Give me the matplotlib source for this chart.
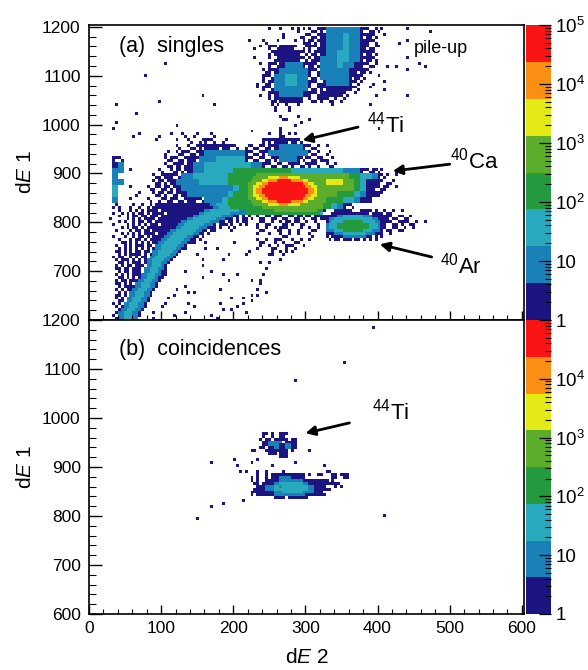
import matplotlib
matplotlib.use("Agg")
import matplotlib.pyplot as plt
import numpy as np
from matplotlib.colors import ListedColormap
from matplotlib.ticker import FixedLocator, NullFormatter

plt.rcParams['font.family'] = ['Liberation Sans', 'DejaVu Sans']
plt.rcParams['mathtext.fontset'] = 'custom'
plt.rcParams['mathtext.rm'] = 'Liberation Sans'
plt.rcParams['mathtext.it'] = 'Liberation Sans:italic'
plt.rcParams['mathtext.default'] = 'regular'

# counts band per cell, one string per row from y=1200 down, cells 8 x 12 wide
# . empty, 1 navy ... 8 red, letters = navy in only part of the cell
singles_rows = [
    ".......... .......... .......... ......e.ab c222222cab b",
    ".......... .......... .......... .......bab 1222322c1a .e",
    ".......... .......... .......... a......acb 12223221ca",
    ".......... .......... .......... .ca11c.bca 12223221ab e",
    ".......... .......... .......... .b1111caac 1223322c1a",
    ".......... .......... .......... ..d111caa1 2223322c1a",
    ".......... .......... .......... .ca1222c1a 2223221cab",
    ".......... .......... .......... ac122222ca 222221c1a.",
    ".......... .......... .......... ca223322ab 22222c1a..",
    ".......... .......... .......... ac223322ca d2222cae..",
    ".......... .......... .......... ca222222ab c1111ca...",
    ".......... .......... .......... .c122221ca 1111a.e...",
    ".......... .......... .......... .ac1111.ab cab.e.....",
    ".......... .......... .......... ..b.a.e...",
    "",
    "",
    "",
    "",
    ".......... ....e.a.b. .a........ .e.a......",
    ".......... .....e.a.b ca.b...... cc11c1a...",
    ".......... .....a.abc 11c1ca.bab ac12222cab .e.",
    ".......... ...b.acab1 2222222cab c2222222ab .b",
    "....ca.... ...acab1c2 2233333cab abc222cbab a.e",
    "....12.... ...ab1a122 3333333322 cababcabca .ab",
    "....22.e.. ..a.acb122 3333344444 4444433333 3333222cac b",
    "....2..... .ab1ca2233 3333444445 5566666555 5555544332 cb",
    "....22.... .acb122223 3333444456 7888888765 5666554311 c.b",
    "....3..e.. abacb12222 2222234567 8888888876 555555431c ab.e",
    "....3...b. .acbac1222 2222344567 8888888876 5554443211 c",
    "....2..e.. a.bacab1ca 2223444556 7888888776 544433211.",
    ".......... .......... .......... 6666666655 4432ca....",
    ".......... .......... .......... 4444444432 c......... cab.e",
    ".......... .......... .........a bacabacbac 1......... c1abab",
    ".......... .......... .........b ab.acbab.a .......... acabcab.e",
    ".......... .......... .........a b.aca.b.ab .......... cabab.e.",
    ".......... .......... .........e .e.ab.e.a. .......... a.e.",
    ".......... .......... .........a b.ca.ab.e.",
    ".......... .......... .........b .ab.ca.e..",
    ".......... .......... .......... .b.ae.....",
]

# finer cells, 4 x 6 wide: hot core from x=216 y=900, argon spot from x=328 y=828,
# lower left banana from x=28 y=840
core_rows = [
    "444455555555555555555555555",
    "444555556666777666655555555",
    "445555667778888877776655555",
    "455566778888888888887766555",
    "455667788888888888888776655",
    "455677888888888888888877655",
    "455677888888888888888877655",
    "455667788888888888888776655",
    "455566778888888888887766555",
    "445555667778888877776655555",
    "444555556666777666655555555",
    "444444555555555555555555555",
    "444444444455555555555555544",
    "444444444444444444444444443",
]
argon_rows = [
    "...111111...1111.1..",
    "..1111111111111.1111",
    "11112233333332221111",
    "12233333333333332211",
    "12333344444443333221",
    "23334444444444433321",
    "23334444444444433321",
    "22233344444443332221",
    "11122233333333222111",
    "1.1111222222221 1.1.1".replace(" ", ""),
    ".1.11.111.11.1.1.1..",
]
banana_rows = [
    "..1.....1. .1..1.1111 1111111111 1111122333 3444444445",
    ".1.1...1.. 1..1.11111 1111111111 1111112233 3344444444",
    "...1...1.1 .1.1111.11 1111111111 1112233333 3333322222",
    ".1..1.1.1. 11.1.1111. 1111111111 1223333333 3322222111",
    "...1..1.11 .11.111.11 1111111112 2333333332 22211.1.1.",
    "1.....1.1. 1.1111.111 1111111223 3333333222 111.1.11.1",
    "...1.1..1. 11.11.1111 1111122333 3333322211 .11.1.11..",
    ".1....1.1. 1.1.111.11 1111223333 3332221.11 1.1..1.1..",
    "....1.1.11 .1.1111111 1112233333 3222111.1. .1.1......",
    "..1....1.1 1.11.11111 1223333333 2211.11... ..1.......",
    "....1.1.1. 1.1111.111 2233333332 211.1.....",
    ".1...1..1. 11.1.11112 2333333221 1.1.......",
    "...1...1.1 1.1.111122 3333332211 .1........",
    "....11.1.1 .1.1.11223 3333322111 ...1......",
    "..1..1.1.1 11.11.2233 3333221...",
    "...1.1.1.1 .1.1.12233 3332211... ...1......",
    "..11.1.1.1 1.11.22333 33221.....",
    "...1.1.111 1.1.122333 3221......",
    ".1.11..1.1 .11.223333 221.......",
    "..1.111.1. 1.12233332 21........",
    "...11.1.11 1.12233322 1.........",
    "..1.1.11.1 11.2233321",
    "..11.11.11 1.22333221",
    "...1.11.11 1.22333211",
    "..1.1.1.11 1223332211",
    "...11.1.1. 122333211.",
    "..1.11.111 22333221..",
    "..11.1.1.2 2333221...",
    "...1.11112 2333221...",
    "..1.1.1122 333221....",
    "...1.1.223 33221.....",
    "..11.1.223 33221.....",
    "..1.1.2233 3221......",
    "...11.2233 3221......",
    ".1.1.22333 221.......",
    "..1.122333 221.......",
    "...1223332 21........",
    "..12233322 1.........",
    ".1.2233322 1.........",
    "..12233322",
]

# lone counts in the singles panel
singles_speck_x = [105, 78, 157, 98, 174, 37, 65, 37, 34, 122, 70, 62, 98, 95, 221, 229, 229, 238, 225,
                   251, 265, 281, 290, 299, 269, 285, 271, 295, 260, 308, 299, 239, 251, 235, 234, 239,
                   255, 260, 257, 265, 269, 277, 289, 274, 305, 292, 267, 285, 276, 267, 285, 265,
                   442, 472, 443, 428, 443, 456, 464, 440, 424, 412, 410, 402, 393, 388, 396, 409, 440,
                   388, 337, 348, 401, 305, 292, 292, 331, 306, 320, 331, 424, 424, 415, 408, 401,
                   239, 237, 234, 246, 234, 225, 242, 244, 251, 265, 253, 269, 283]
singles_speck_y = [1127, 1101, 1059, 1047, 1041, 1041, 1025, 1006, 994, 998, 981, 975, 974, 971, 1171, 1154, 1138, 1127, 988,
                   1199, 1197, 1197, 1190, 1198, 1187, 1173, 1177, 1180, 1173, 1190, 1167, 1159, 1136, 1084, 1074, 1060,
                   1043, 1040, 1026, 1016, 1009, 1026, 1019, 1013, 1013, 1004, 995, 997, 983, 976, 981, 989,
                   1198, 1190, 1171, 1165, 1139, 1122, 1119, 1113, 1119, 1119, 1091, 1098, 1081, 1078, 1056, 1069, 1059,
                   1038, 1038, 1048, 994, 1011, 1002, 948, 938, 931, 924, 925, 900, 898, 880, 873, 873,
                   681, 672, 664, 654, 651, 681, 695, 705, 715, 722, 732, 734, 739]
banana_speck_x = [156, 158, 151, 177, 195, 186, 133, 169, 158, 186, 206, 195, 133, 123, 144, 138, 181,
                  118, 110, 105, 138, 181, 198, 212, 184, 198, 204, 225, 214, 133, 102, 91, 119, 170,
                  179, 216, 91, 147, 223, 237, 216, 161, 202, 225]
banana_speck_y = [709, 722, 732, 746, 734, 724, 698, 697, 686, 695, 695, 681, 671, 664, 654, 654, 662,
                  651, 646, 635, 630, 635, 642, 642, 623, 623, 628, 640, 633, 615, 624, 616, 607, 607,
                  604, 615, 604, 626, 743, 715, 735, 746, 756, 650]

# coincidences, cells 4 x 6 wide, rows from y=972 down, columns from x=212
coinc_rows = [
    ".......11.1..111",
    ".......1..1..11.",
    "......1.11.11111.11",
    ".......1122222.1111",
    ".......112222112211",
    "......11.1122112211",
    "...11...11111111.1.....1",
    ".........111.111",
    ".............111",
    "",
    "",
    "",
    "",
    ".....1..1.....1..............11",
    ".....1..1.111111111111.1..11...11.111",
    "...1.1..1.111222211111.........11..11",
    "...1.1..1111122222222111111111.1",
    "....11.111122333333332211111111111",
    ".....111222334333333333221111...1.1",
    "....111122233333333333322111111",
    "...1111111122233333332222111",
    "...1.111111222222222221111111",
    "...........1111.1111111",
]
coinc_speck_x = [170, 202, 226, 234, 285, 327, 205, 209, 253, 217, 150, 171, 186, 214, 393, 353, 287, 411]
coinc_speck_y = [909, 912, 909, 912, 909, 902, 900, 892, 902, 892, 797, 817, 824, 830, 1186, 1110, 1078, 800]

band_colors = ["#1c1480", "#1a80b8", "#28a9bd", "#229a3d", "#5bad2b", "#e4ea15", "#fa8f14", "#fa1414"]
band_edges = [1, 4.217, 17.78, 74.99, 316.2, 1334, 5623, 23714, 100000]
x_edges = np.arange(0, 604, 4)
y_edges = np.arange(600, 1206, 6)

partial = {
    'a': [[1, 0], [0, 1]], 'b': [[0, 1], [1, 0]], 'c': [[1, 1], [1, 0]],
    'd': [[0, 1], [1, 1]], 'e': [[1, 0], [0, 0]],
}


def parse_rows(rows, ncols):
    return np.array([[0 if c == "." else int(c) for c in r.replace(" ", "").ljust(ncols, ".")] for r in rows])


def put(grid, rows, x0, y_top):
    ncols = max(len(r.replace(" ", "")) for r in rows)
    cells = parse_rows(rows, ncols)
    i0 = (1200 - y_top) // 6
    j0 = x0 // 4
    grid[i0:i0 + cells.shape[0], j0:j0 + ncols] = cells


def coarse_grid(rows):
    grid = np.zeros((100, 150), dtype=int)
    for i, r in enumerate(rows):
        for j, c in enumerate(r.replace(" ", "")):
            if c in partial:
                grid[2 * i:2 * i + 2, 2 * j:2 * j + 2] = partial[c]
            elif c != ".":
                grid[2 * i:2 * i + 2, 2 * j:2 * j + 2] = int(c)
    return grid


# 粗网格 + 细网格覆盖
singles = coarse_grid(singles_rows)
put(singles, banana_rows, 28, 840)
put(singles, core_rows, 216, 900)
put(singles, argon_rows, 328, 828)
singles = singles[::-1]
hits, _, _ = np.histogram2d(singles_speck_y + banana_speck_y, singles_speck_x + banana_speck_x, bins=[y_edges, x_edges])
singles[(hits > 0) & (singles == 0)] = 1

coinc = np.zeros((100, 150), dtype=int)
put(coinc, coinc_rows, 212, 972)
coinc = coinc[::-1]
hits, _, _ = np.histogram2d(coinc_speck_y, coinc_speck_x, bins=[y_edges, x_edges])
coinc[(hits > 0) & (coinc == 0)] = 1

cmap = ListedColormap(band_colors)
W, H = 588, 670
fig = plt.figure(figsize=(W / 100, H / 100), dpi=100)


def box(left, top, right, bottom):
    return [left / W, 1 - bottom / H, (right - left) / W, (bottom - top) / H]


ax_a = fig.add_axes(box(89, 25, 524, 320))
ax_b = fig.add_axes(box(89, 320, 524, 614))
cax_a = fig.add_axes(box(526, 25, 551, 320))
cax_b = fig.add_axes(box(526, 320, 551, 614))

ax_a.pcolormesh(x_edges, y_edges, np.ma.masked_equal(singles, 0), cmap=cmap, vmin=0.5, vmax=8.5)
ax_b.pcolormesh(x_edges, y_edges, np.ma.masked_equal(coinc, 0), cmap=cmap, vmin=0.5, vmax=8.5)
ax_a.set_ylim(600, 1204)
ax_b.set_ylim(600, 1200)

for ax in (ax_a, ax_b):
    ax.set_xlim(0, 603)
    ax.set_xticks(np.arange(0, 601, 100))
    ax.set_xticks(np.arange(0, 601, 20), minor=True)
    ax.set_yticks(np.arange(600, 1201, 100))
    ax.set_yticks(np.arange(600, 1201, 20), minor=True)
    ax.tick_params(axis='x', which='major', direction='in', length=6.5, width=1.0, labelsize=12.5, pad=5)
    ax.tick_params(axis='x', which='minor', direction='in', length=3.5, width=0.8)
    ax.tick_params(axis='y', which='major', direction='in', length=9.5, width=1.0, labelsize=12.5, pad=6)
    ax.tick_params(axis='y', which='minor', direction='in', length=5, width=0.8)
    ax.set_ylabel("d$\\mathit{E}$ 1", fontsize=15, labelpad=5)
    for s in ax.spines.values():
        s.set_linewidth(1.2)
ax_a.tick_params(axis='x', labelbottom=False)
ax_a.set_yticklabels(["", "700", "800", "900", "1000", "1100", "1200"])
ax_b.set_xlabel("d$\\mathit{E}$ 2", fontsize=15, labelpad=9)

for cax, labels in ((cax_a, ["1", "10", "$10^2$", "$10^3$", "$10^4$", "$10^5$"]),
                    (cax_b, ["1", "10", "$10^2$", "$10^3$", "$10^4$", ""])):
    cax.pcolormesh([0, 1], band_edges, np.arange(1, 9).reshape(-1, 1), cmap=cmap, vmin=0.5, vmax=8.5)
    cax.set_yscale('log')
    cax.set_ylim(1, 100000)
    cax.set_xticks([])
    cax.yaxis.tick_right()
    cax.yaxis.set_major_locator(FixedLocator([1, 10, 100, 1000, 10000, 100000]))
    cax.set_yticklabels(labels)
    cax.yaxis.set_minor_locator(FixedLocator([m * 10 ** e for e in range(5) for m in range(2, 10)]))
    cax.yaxis.set_minor_formatter(NullFormatter())
    cax.tick_params(axis='y', which='major', direction='in', length=9, width=0.9, labelsize=13.5, pad=3)
    cax.tick_params(axis='y', which='minor', direction='in', length=4.5, width=0.8)
    for s in cax.spines.values():
        s.set_visible(False)

ax_a.text(42, 1161, "(a)  singles", fontsize=15.5, va='center')
ax_a.text(450, 1155, "pile-up", fontsize=13, va='center')
ax_b.text(41, 1140, "(b)  coincidences", fontsize=15.5, va='center')

arrow = dict(arrowstyle='-|>', color='black', lw=2, mutation_scale=14, shrinkA=0, shrinkB=0)
ax_a.annotate("", xy=(296, 968), xytext=(373, 995), arrowprops=arrow)
ax_a.annotate("", xy=(421, 905), xytext=(500, 919), arrowprops=arrow)
ax_a.annotate("", xy=(403, 755), xytext=(475, 729), arrowprops=arrow)
ax_b.annotate("", xy=(300, 969), xytext=(361, 990), arrowprops=arrow)
ax_a.text(386, 1000, "$^{44}$Ti", fontsize=16, va='center')
ax_a.text(500, 927, "$^{40}$Ca", fontsize=16, va='center')
ax_a.text(486, 711, "$^{40}$Ar", fontsize=16, va='center')
ax_b.text(392, 1013, "$^{44}$Ti", fontsize=16, va='center')

plt.savefig("out.png", dpi=100)
